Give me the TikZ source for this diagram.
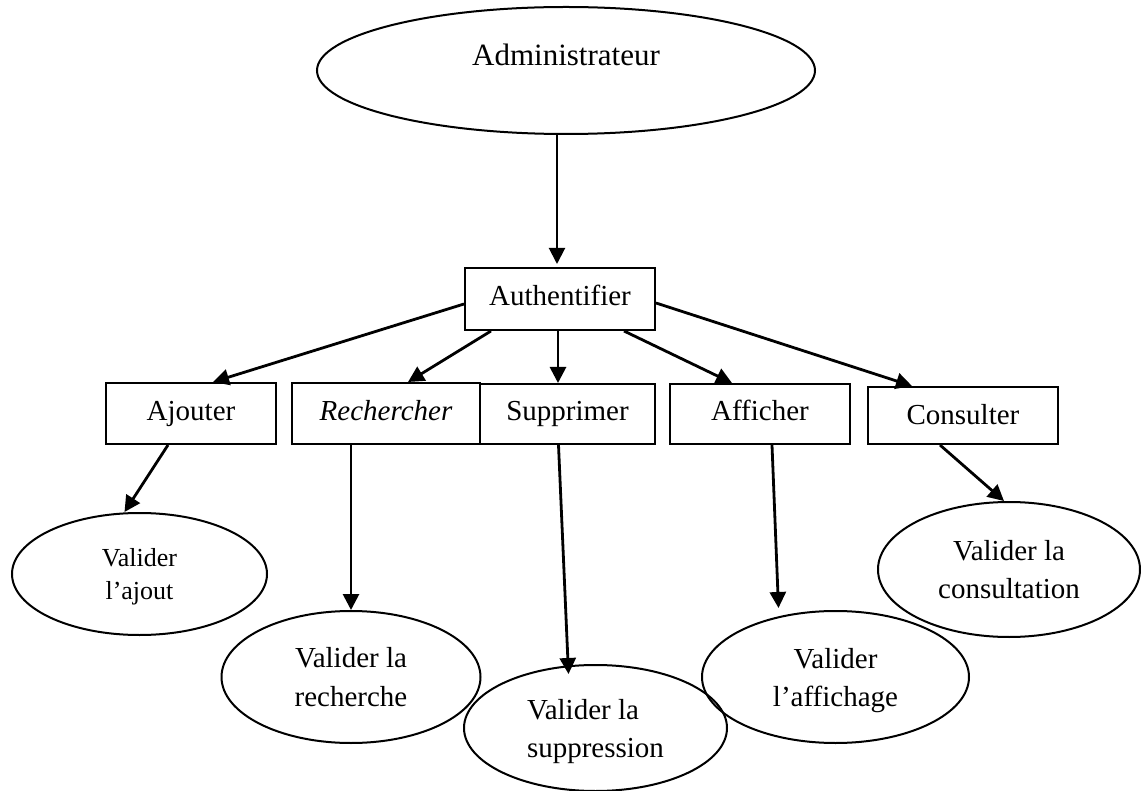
\documentclass[tikz,border=0pt]{standalone}
\usepackage{fontspec}
\setmainfont{Liberation Serif}
\usetikzlibrary{shapes.geometric,arrows.meta,calc}

\tikzset{
  box/.style={draw, line width=2pt, rectangle, inner sep=0pt,
    text height=20pt, text depth=6pt, font=\fontsize{29}{35}\selectfont},
  oval/.style={draw, line width=2pt, ellipse, inner sep=0pt, align=center,
    font=\fontsize{29}{38}\selectfont},
  arr/.style={line width=2.8pt, -{Triangle[length=16pt,width=16pt]}},
  thinarr/.style={arr, line width=2pt},
}

\begin{document}
\begin{tikzpicture}[x=1pt, y=1pt]
  \useasboundingbox (0,0) rectangle (1141,-791);

  % top actor
  \node[oval, minimum width=498pt, minimum height=127pt,
        label={[font=\fontsize{31}{37}\selectfont, yshift=16pt]center:Administrateur}]
        (admin) at (566,-70.5) {};

  % login step
  \node[box, minimum width=190pt, minimum height=62pt] (auth) at (560,-299) {Authentifier};

  % actions
  \node[box, minimum width=170pt, minimum height=61pt] (ajouter) at (191,-413.5) {Ajouter};
  \node[box, minimum width=188pt, minimum height=61pt] (rech) at (386,-413.5) {\itshape Rechercher};
  \node[box, minimum width=175pt, minimum height=60pt] (supp) at (567.5,-414) {Supprimer};
  \node[box, minimum width=180pt, minimum height=60pt] (aff) at (760,-414) {Afficher};
  \node[box, minimum width=190pt, minimum height=57pt] (cons) at (963,-415.5)
        {\raisebox{-2.5pt}{Consulter}\hspace{36pt}};

  % validations
  \node[oval, minimum width=255pt, minimum height=122pt, text depth=0pt,
        font=\fontsize{26}{33}\selectfont] (vajout) at (139.5,-574) {Valider\\l’ajout};
  \node[oval, minimum width=259pt, minimum height=132pt, font=\fontsize{29}{39}\selectfont]
        (vrech) at (351,-677) {Valider la\\recherche};
  \node[oval, minimum width=263pt, minimum height=126pt, align=left, text depth=0pt]
        (vsupp) at (595.5,-728) {Valider la\\suppression};
  \node[oval, minimum width=267pt, minimum height=132pt, text depth=0pt]
        (vaff) at (835.5,-677) {Valider\\l’affichage};
  \node[oval, minimum width=262pt, minimum height=135pt]
        (vcons) at (1009,-569.5) {Valider la\\consultation};

  % connectors
  \draw[thinarr] ([xshift=-3pt]admin.south -| auth.north) -- ([xshift=-3pt,yshift=3pt]auth.north);
  \draw[arr] ([yshift=-5pt]auth.west) -- ([xshift=22pt]ajouter.north);
  \draw[arr] ([xshift=27pt]auth.south west) -- ([xshift=22pt]rech.north);
  \draw[arr] ([xshift=-2pt]auth.south) -- ([xshift=-2pt]auth.south |- supp.north);
  \draw[arr] ([xshift=-32pt]auth.south east) -- ([xshift=-28pt]aff.north);
  \draw[arr] ([yshift=-4pt]auth.east) -- ([xshift=-51pt]cons.north);

  \draw[arr] ([xshift=-23pt]ajouter.south) -- ([xshift=-15pt]vajout.north);
  \draw[arr] (rech.south -| vrech.north) -- (vrech.north);
  \draw[arr] ([xshift=-9pt]supp.south) -- ([xshift=-27pt,yshift=-10pt]vsupp.north);
  \draw[arr] ([xshift=12pt]aff.south) -- ([xshift=-57pt,yshift=2pt]vaff.north);
  \draw[arr] ([xshift=-23pt]cons.south) -- ([xshift=-5pt]vcons.north);
\end{tikzpicture}
\end{document}
